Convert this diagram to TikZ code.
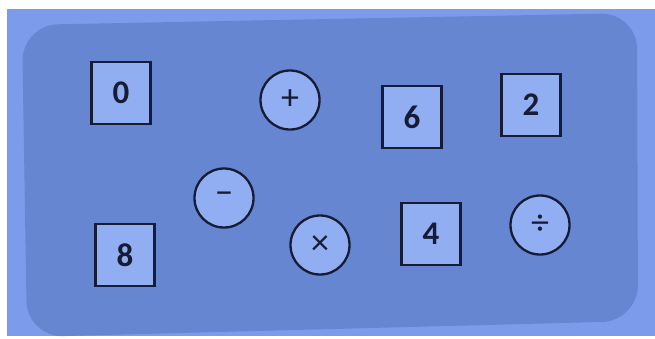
\documentclass[tikz,border=0pt]{standalone}
\usepackage{fontspec}
\setmainfont{Carlito}
\definecolor{outerblue}{RGB}{124,155,234}
\definecolor{innerblue}{RGB}{102,134,210}
\definecolor{cardblue}{RGB}{146,174,242}
\definecolor{inkblue}{RGB}{22,28,52}
\tikzset{
  numcard/.style={draw=inkblue, line width=2.3pt, fill=cardblue, minimum width=59pt, minimum height=62pt, inner sep=0pt, text=inkblue, font=\fontsize{33}{35}\selectfont\bfseries},
  opdisc/.style={draw=inkblue, line width=2.3pt, fill=cardblue, circle, minimum size=59pt, inner sep=0pt, text=inkblue, font=\fontsize{36}{38}\selectfont}
}
\begin{document}
\begin{tikzpicture}[x=1pt,y=-1pt]
\useasboundingbox (0,0) rectangle (655,338);
\fill[white] (0,0) rectangle (655,338);
\fill[outerblue] (7,9) rectangle (655,336);
\fill[innerblue, rounded corners=36pt] (22,25) -- (637,13) -- (638,321) -- (27,337) -- cycle;
\node[numcard] (n0) at (121,93) {0};
\node[opdisc] (plus) at (290,100) {+};
\node[numcard] (n6) at (412,117) {6};
\node[numcard] (n2) at (531,105) {2};
\node[opdisc] (minus) at (224,198) {−};
\node[numcard] (n8) at (125,255) {8};
\node[opdisc] (times) at (320,245) {×};
\node[numcard] (n4) at (431,234) {4};
\node[opdisc] (divide) at (540,225) {÷};
\end{tikzpicture}
\end{document}
